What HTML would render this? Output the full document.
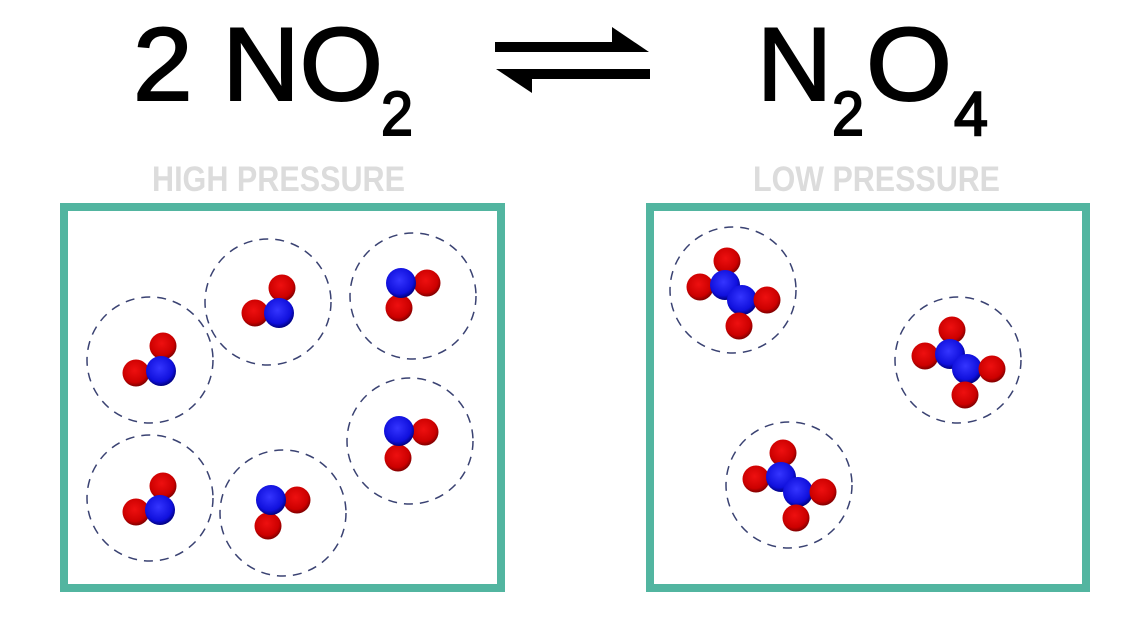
<!DOCTYPE html>
<html><head><style>html,body{margin:0;padding:0;background:#fff}svg{display:block}</style></head>
<body>
<svg width="1145" height="644" viewBox="0 0 1145 644" xmlns="http://www.w3.org/2000/svg" font-family="Liberation Sans, sans-serif">
<defs>
<radialGradient id="r" cx="0.45" cy="0.4" r="0.6"><stop offset="0" stop-color="#ee1010"/><stop offset="0.75" stop-color="#cc0000"/><stop offset="1" stop-color="#800000"/></radialGradient>
<radialGradient id="b" cx="0.45" cy="0.4" r="0.6"><stop offset="0" stop-color="#3535ff"/><stop offset="0.75" stop-color="#1010dd"/><stop offset="1" stop-color="#000080"/></radialGradient>
</defs>
<rect width="1145" height="644" fill="#fff"/>
<g stroke="#000" stroke-width="2">
<text x="133" y="100" font-size="104" textLength="250" lengthAdjust="spacingAndGlyphs">2 NO</text>
<text x="381" y="135" font-size="62" textLength="32" lengthAdjust="spacingAndGlyphs">2</text>
<text x="757" y="100" font-size="104" textLength="75" lengthAdjust="spacingAndGlyphs">N</text>
<text x="832" y="135" font-size="62" textLength="32" lengthAdjust="spacingAndGlyphs">2</text>
<text x="866" y="100" font-size="104" textLength="86" lengthAdjust="spacingAndGlyphs">O</text>
<text x="954" y="135" font-size="62" textLength="34" lengthAdjust="spacingAndGlyphs">4</text>
</g>
<rect x="495" y="42" width="125" height="10" fill="#000"/>
<polygon points="612,27 649,52 612,52" fill="#000"/>
<rect x="528" y="69" width="122" height="10" fill="#000"/>
<polygon points="532,69 496,69 532,93" fill="#000"/>
<text x="152" y="191" font-size="35" font-weight="bold" fill="#dcdcdc" textLength="253" lengthAdjust="spacingAndGlyphs">HIGH PRESSURE</text>
<text x="753" y="191" font-size="35" font-weight="bold" fill="#dcdcdc" textLength="247" lengthAdjust="spacingAndGlyphs">LOW PRESSURE</text>
<rect x="64" y="207" width="437" height="381" fill="none" stroke="#52b5a0" stroke-width="8"/>
<rect x="650" y="207" width="436" height="381" fill="none" stroke="#52b5a0" stroke-width="8"/>
<g fill="none" stroke="#3a4272" stroke-width="1.5" stroke-dasharray="9,7">
<circle cx="150" cy="360" r="63"/><circle cx="268" cy="302" r="63"/><circle cx="413" cy="296" r="63"/>
<circle cx="150" cy="498" r="63"/><circle cx="410" cy="441" r="63"/><circle cx="283" cy="513" r="63"/>
<circle cx="733" cy="290" r="63"/><circle cx="958" cy="360" r="63"/><circle cx="789" cy="485" r="63"/>
</g>
<g>
<circle cx="163" cy="346" r="13.5" fill="url(#r)"/><circle cx="136" cy="373" r="13.5" fill="url(#r)"/><circle cx="161" cy="371" r="15" fill="url(#b)"/>
<circle cx="282" cy="288" r="13.5" fill="url(#r)"/><circle cx="255" cy="313" r="13.5" fill="url(#r)"/><circle cx="279" cy="313" r="15" fill="url(#b)"/>
<circle cx="427" cy="283" r="13.5" fill="url(#r)"/><circle cx="399" cy="308" r="13.5" fill="url(#r)"/><circle cx="401" cy="283" r="15" fill="url(#b)"/>
<circle cx="163" cy="486" r="13.5" fill="url(#r)"/><circle cx="136" cy="512" r="13.5" fill="url(#r)"/><circle cx="160" cy="510" r="15" fill="url(#b)"/>
<circle cx="425" cy="432" r="13.5" fill="url(#r)"/><circle cx="398" cy="458" r="13.5" fill="url(#r)"/><circle cx="399" cy="431" r="15" fill="url(#b)"/>
<circle cx="297" cy="500" r="13.5" fill="url(#r)"/><circle cx="268" cy="526" r="13.5" fill="url(#r)"/><circle cx="271" cy="500" r="15" fill="url(#b)"/>

<circle cx="727" cy="261" r="13.5" fill="url(#r)"/><circle cx="700" cy="287" r="13.5" fill="url(#r)"/><circle cx="725" cy="285" r="15" fill="url(#b)"/><circle cx="742" cy="300" r="15" fill="url(#b)"/><circle cx="767" cy="300" r="13.5" fill="url(#r)"/><circle cx="739" cy="326" r="13.5" fill="url(#r)"/>
<circle cx="952" cy="330" r="13.5" fill="url(#r)"/><circle cx="925" cy="356" r="13.5" fill="url(#r)"/><circle cx="950" cy="354" r="15" fill="url(#b)"/><circle cx="967" cy="369" r="15" fill="url(#b)"/><circle cx="992" cy="369" r="13.5" fill="url(#r)"/><circle cx="965" cy="395" r="13.5" fill="url(#r)"/>
<circle cx="783" cy="453" r="13.5" fill="url(#r)"/><circle cx="756" cy="479" r="13.5" fill="url(#r)"/><circle cx="781" cy="477" r="15" fill="url(#b)"/><circle cx="798" cy="492" r="15" fill="url(#b)"/><circle cx="823" cy="492" r="13.5" fill="url(#r)"/><circle cx="796" cy="518" r="13.5" fill="url(#r)"/>
</g>
</svg>
</body></html>
